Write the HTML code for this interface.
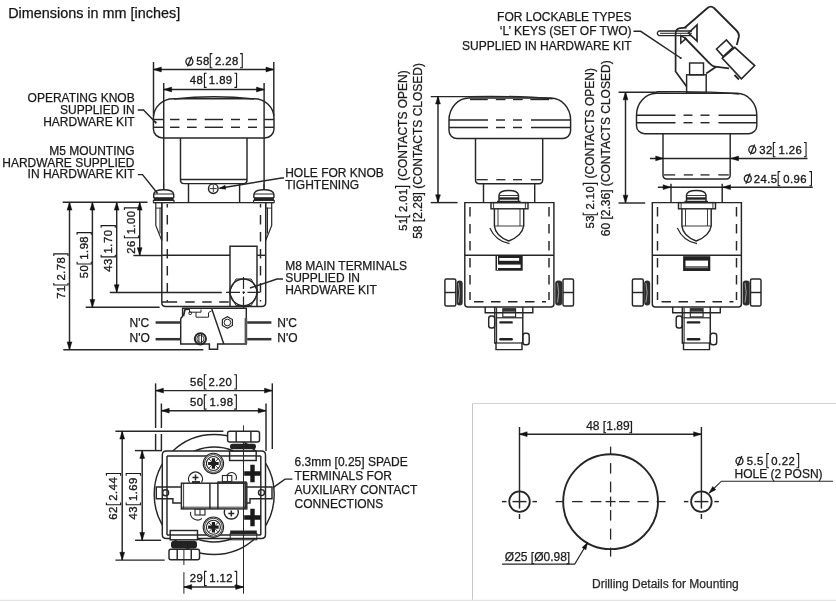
<!DOCTYPE html><html><head><meta charset="utf-8"><style>html,body{margin:0;padding:0;background:#fff;}svg{display:block;will-change:transform;font-family:"Liberation Sans",sans-serif;}</style></head><body>
<svg width="836" height="602" viewBox="0 0 836 602">
<rect width="836" height="602" fill="#fff"/>
<text x="8.2" y="17.6" font-size="14.4" text-anchor="start" fill="#141414" stroke="#141414" stroke-width="0.25" >Dimensions in mm [inches]</text>
<line x1="153.5" y1="62" x2="153.5" y2="116" stroke="#262626" stroke-width="1.45"/>
<line x1="273.8" y1="62" x2="273.8" y2="116" stroke="#262626" stroke-width="1.45"/>
<line x1="153.5" y1="69.5" x2="273.8" y2="69.5" stroke="#262626" stroke-width="1.45"/>
<polygon points="153.5,69.5 161.3,67.1 161.3,71.9" fill="#111" stroke="#111" stroke-width="0.5" stroke-linejoin="round"/>
<polygon points="273.8,69.5 266.0,67.1 266.0,71.9" fill="#111" stroke="#111" stroke-width="0.5" stroke-linejoin="round"/>
<ellipse cx="189.4" cy="61.6" rx="3.5" ry="3.7" fill="none" stroke="#262626" stroke-width="1.35"/>
<line x1="187.5" y1="66.6" x2="191.70000000000002" y2="56.5" stroke="#262626" stroke-width="1.4"/>
<g><text x="196.26" y="64.6" font-size="11.3" letter-spacing="0.45" fill="#1a1a1a" stroke="#1a1a1a" stroke-width="0.35">58</text><text x="215.04" y="64.6" font-size="11.3" letter-spacing="0.45" fill="#1a1a1a" stroke="#1a1a1a" stroke-width="0.35">2.28</text><path d="M212.40,53.599999999999994 H210.25 V67.8 H212.40 M240.10,53.599999999999994 H242.25 V67.8 H240.10" fill="none" stroke="#1a1a1a" stroke-width="1.1"/></g>
<line x1="163.7" y1="83" x2="163.7" y2="189.7" stroke="#262626" stroke-width="1.45"/>
<line x1="264.1" y1="83" x2="264.1" y2="189.7" stroke="#262626" stroke-width="1.45"/>
<line x1="163.8" y1="89.5" x2="264.3" y2="89.5" stroke="#262626" stroke-width="1.45"/>
<polygon points="163.8,89.5 171.60000000000002,87.1 171.60000000000002,91.9" fill="#111" stroke="#111" stroke-width="0.5" stroke-linejoin="round"/>
<polygon points="264.3,89.5 256.5,87.1 256.5,91.9" fill="#111" stroke="#111" stroke-width="0.5" stroke-linejoin="round"/>
<g><text x="189.75" y="84.2" font-size="11.3" letter-spacing="0.45" fill="#1a1a1a" stroke="#1a1a1a" stroke-width="0.35">48</text><text x="208.82" y="84.2" font-size="11.3" letter-spacing="0.45" fill="#1a1a1a" stroke="#1a1a1a" stroke-width="0.35">1.89</text><path d="M206.60,73.2 H204.45 V87.4 H206.60 M234.40,73.2 H236.55 V87.4 H234.40" fill="none" stroke="#1a1a1a" stroke-width="1.1"/></g>
<path d="M153.4,129 V118 A20,19.5 0 0 1 173.4,98.7 H254 A20,19.5 0 0 1 274,118 V129 A9.5,9 0 0 1 264.5,138 H162.9 A9.5,9 0 0 1 153.4,129 Z" fill="none" stroke="#262626" stroke-width="1.45" />
<path d="M174,99 Q214,94.5 254,99" fill="none" stroke="#262626" stroke-width="1.45" />
<line x1="153.4" y1="119.5" x2="163.8" y2="119.5" stroke="#262626" stroke-width="1.45"/>
<line x1="170" y1="119.5" x2="179.5" y2="119.5" stroke="#262626" stroke-width="1.45"/>
<line x1="187" y1="119.5" x2="196.7" y2="119.5" stroke="#262626" stroke-width="1.45"/>
<line x1="204.7" y1="119.5" x2="223" y2="119.5" stroke="#262626" stroke-width="1.45"/>
<line x1="231" y1="119.5" x2="240" y2="119.5" stroke="#262626" stroke-width="1.45"/>
<line x1="248" y1="119.5" x2="257" y2="119.5" stroke="#262626" stroke-width="1.45"/>
<line x1="264.3" y1="119.5" x2="274" y2="119.5" stroke="#262626" stroke-width="1.45"/>
<line x1="153.4" y1="127.3" x2="163.8" y2="127.3" stroke="#262626" stroke-width="1.45"/>
<line x1="170" y1="127.3" x2="179.5" y2="127.3" stroke="#262626" stroke-width="1.45"/>
<line x1="187" y1="127.3" x2="196.7" y2="127.3" stroke="#262626" stroke-width="1.45"/>
<line x1="204.7" y1="127.3" x2="223" y2="127.3" stroke="#262626" stroke-width="1.45"/>
<line x1="231" y1="127.3" x2="240" y2="127.3" stroke="#262626" stroke-width="1.45"/>
<line x1="248" y1="127.3" x2="257" y2="127.3" stroke="#262626" stroke-width="1.45"/>
<line x1="264.3" y1="127.3" x2="274" y2="127.3" stroke="#262626" stroke-width="1.45"/>
<path d="M180.5,138 L180.5,180 Q180.5,183.6 184,183.6 L243.5,183.6 Q247,183.6 247,180 L247,138" fill="none" stroke="#262626" stroke-width="1.45" />
<line x1="180.5" y1="179.5" x2="247" y2="179.5" stroke="#262626" stroke-width="1.45"/>
<line x1="188.5" y1="183.6" x2="188.5" y2="202.8" stroke="#262626" stroke-width="1.45"/>
<line x1="239.6" y1="183.6" x2="239.6" y2="202.8" stroke="#262626" stroke-width="1.45"/>
<circle cx="213.3" cy="188.6" r="4.8" fill="none" stroke="#262626" stroke-width="1.45"/>
<line x1="209.8" y1="188.6" x2="216.8" y2="188.6" stroke="#262626" stroke-width="0.9"/>
<line x1="213.3" y1="185.1" x2="213.3" y2="192.1" stroke="#262626" stroke-width="0.9"/>
<polyline points="219.5,188.3 281.6,178 284,178" fill="none" stroke="#262626" stroke-width="1.45"/>
<polygon points="219.5,188.3 225.09111289732698,185.34374281069051 225.74664463144728,189.2896619869486" fill="#111" stroke="#111" stroke-width="0.5" stroke-linejoin="round"/>
<rect x="153.39999999999998" y="200.4" width="20.6" height="2.2" rx="0" fill="none" stroke="#262626" stroke-width="1.1"/>
<rect x="153.7" y="197.2" width="20" height="3.2" fill="#222"/>
<path d="M153.7,198.1 L153.7,194.4 Q154.2,189.7 163.7,189.7 Q173.2,189.7 173.7,194.4 L173.7,198.1" fill="none" stroke="#262626" stroke-width="1.45" />
<line x1="153.89999999999998" y1="194.0" x2="173.5" y2="194.0" stroke="#262626" stroke-width="1.0"/>
<path d="M161.8,202.6 L161.8,240.6 M155.8,202.6 L155.8,225.4 L161.8,240.6" fill="none" stroke="#262626" stroke-width="1.2" />
<line x1="160.0" y1="207.6" x2="160.0" y2="233.6" stroke="#262626" stroke-width="1.0"/>
<line x1="155.8" y1="208.1" x2="161.8" y2="208.1" stroke="#262626" stroke-width="0.9"/>
<line x1="163.7" y1="183.6" x2="163.7" y2="189.7" stroke="#262626" stroke-width="1.0"/>
<rect x="253.59999999999997" y="200.4" width="20.6" height="2.2" rx="0" fill="none" stroke="#262626" stroke-width="1.1"/>
<rect x="253.89999999999998" y="197.2" width="20" height="3.2" fill="#222"/>
<path d="M253.89999999999998,198.1 L253.89999999999998,194.4 Q254.39999999999998,189.7 263.9,189.7 Q273.4,189.7 273.9,194.4 L273.9,198.1" fill="none" stroke="#262626" stroke-width="1.45" />
<line x1="254.09999999999997" y1="194.0" x2="273.7" y2="194.0" stroke="#262626" stroke-width="1.0"/>
<path d="M265.7,202.6 L265.7,240.6 M271.7,202.6 L271.7,225.4 L265.7,240.6" fill="none" stroke="#262626" stroke-width="1.2" />
<line x1="267.5" y1="207.6" x2="267.5" y2="233.6" stroke="#262626" stroke-width="1.0"/>
<line x1="271.7" y1="208.1" x2="265.7" y2="208.1" stroke="#262626" stroke-width="0.9"/>
<line x1="263.9" y1="183.6" x2="263.9" y2="189.7" stroke="#262626" stroke-width="1.0"/>
<line x1="153.4" y1="202.6" x2="274" y2="202.6" stroke="#262626" stroke-width="1.45"/>
<line x1="62.7" y1="202.3" x2="147.5" y2="202.3" stroke="#262626" stroke-width="1.45"/>
<path d="M161.8,202.6 L161.8,302.4 Q161.8,306.4 165.8,306.4 L261.7,306.4 Q265.7,306.4 265.7,302.4 L265.7,202.6" fill="none" stroke="#262626" stroke-width="1.45" />
<line x1="167.3" y1="204" x2="167.3" y2="301.5" stroke="#262626" stroke-width="1.45" stroke-dasharray="9.5,7.5" stroke-dashoffset="6"/>
<line x1="260.5" y1="204" x2="260.5" y2="301.5" stroke="#262626" stroke-width="1.45" stroke-dasharray="9.5,7.5" stroke-dashoffset="6"/>
<line x1="161.8" y1="255.3" x2="230" y2="255.3" stroke="#262626" stroke-width="1.45"/>
<line x1="257" y1="255.3" x2="265.7" y2="255.3" stroke="#262626" stroke-width="1.45"/>
<line x1="133.3" y1="255.5" x2="161.8" y2="255.5" stroke="#262626" stroke-width="1.45"/>
<line x1="161.8" y1="302" x2="230" y2="302" stroke="#262626" stroke-width="1.45" stroke-dasharray="15.4,8,9.5,7.5,9.5,7.5,9.5,7.5" stroke-dashoffset="0"/>
<path d="M230,306.4 L230,246.2 L257,246.2 L257,306.4" fill="none" stroke="#262626" stroke-width="1.45" />
<circle cx="243.5" cy="292.3" r="13.4" fill="none" stroke="#262626" stroke-width="1.45"/>
<polygon points="229,292.3 236,279 251.2,279 258.2,292.3 251.2,305.6 236,305.6" fill="none" stroke="#262626" stroke-width="1.0"/>
<line x1="243.5" y1="277" x2="243.5" y2="310" stroke="#262626" stroke-width="1.2" stroke-dasharray="12,2.5,2.5,2.5" stroke-dashoffset="0"/>
<line x1="226" y1="292.3" x2="260" y2="292.3" stroke="#262626" stroke-width="1.2" stroke-dasharray="14,2.5,2.5,2.5" stroke-dashoffset="0"/>
<polyline points="250,288 277,279 283,279" fill="none" stroke="#262626" stroke-width="1.45"/>
<line x1="109.8" y1="292.5" x2="221.8" y2="292.5" stroke="#262626" stroke-width="1.45"/>
<line x1="85.7" y1="307.3" x2="159.6" y2="307.3" stroke="#262626" stroke-width="1.45"/>
<line x1="63.3" y1="349.7" x2="203.3" y2="349.7" stroke="#262626" stroke-width="1.45"/>
<line x1="69.5" y1="202.3" x2="69.5" y2="349.7" stroke="#262626" stroke-width="1.45"/>
<polygon points="69.5,202.3 67.1,210.10000000000002 71.9,210.10000000000002" fill="#111" stroke="#111" stroke-width="0.5" stroke-linejoin="round"/>
<polygon points="69.5,349.7 67.1,341.9 71.9,341.9" fill="#111" stroke="#111" stroke-width="0.5" stroke-linejoin="round"/>
<line x1="92.4" y1="202.3" x2="92.4" y2="307.3" stroke="#262626" stroke-width="1.45"/>
<polygon points="92.4,202.3 90.0,210.10000000000002 94.80000000000001,210.10000000000002" fill="#111" stroke="#111" stroke-width="0.5" stroke-linejoin="round"/>
<polygon points="92.4,307.3 90.0,299.5 94.80000000000001,299.5" fill="#111" stroke="#111" stroke-width="0.5" stroke-linejoin="round"/>
<line x1="116.7" y1="202.3" x2="116.7" y2="292.5" stroke="#262626" stroke-width="1.45"/>
<polygon points="116.7,202.3 114.3,210.10000000000002 119.10000000000001,210.10000000000002" fill="#111" stroke="#111" stroke-width="0.5" stroke-linejoin="round"/>
<polygon points="116.7,292.5 114.3,284.7 119.10000000000001,284.7" fill="#111" stroke="#111" stroke-width="0.5" stroke-linejoin="round"/>
<line x1="139.7" y1="202.3" x2="139.7" y2="255.5" stroke="#262626" stroke-width="1.45"/>
<polygon points="139.7,202.3 137.29999999999998,210.10000000000002 142.1,210.10000000000002" fill="#111" stroke="#111" stroke-width="0.5" stroke-linejoin="round"/>
<polygon points="139.7,255.5 137.29999999999998,247.7 142.1,247.7" fill="#111" stroke="#111" stroke-width="0.5" stroke-linejoin="round"/>
<g transform="translate(135.4,253.3) rotate(-90)"><text x="-0.56" y="0" font-size="11.3" letter-spacing="0.45" fill="#1a1a1a" stroke="#1a1a1a" stroke-width="0.35">26</text><text x="19.02" y="0" font-size="11.3" letter-spacing="0.45" fill="#1a1a1a" stroke="#1a1a1a" stroke-width="0.35">1.00</text><path d="M17.70,-11 H15.55 V3.2 H17.70 M43.30,-11 H45.45 V3.2 H43.30" fill="none" stroke="#1a1a1a" stroke-width="1.1"/></g>
<g transform="translate(112.1,271.5) rotate(-90)"><text x="-0.25" y="0" font-size="11.3" letter-spacing="0.45" fill="#1a1a1a" stroke="#1a1a1a" stroke-width="0.35">43</text><text x="18.12" y="0" font-size="11.3" letter-spacing="0.45" fill="#1a1a1a" stroke="#1a1a1a" stroke-width="0.35">1.70</text><path d="M16.80,-11 H14.65 V3.2 H16.80 M43.70,-11 H45.85 V3.2 H43.70" fill="none" stroke="#1a1a1a" stroke-width="1.1"/></g>
<g transform="translate(88.1,277.9) rotate(-90)"><text x="-0.44" y="0" font-size="11.3" letter-spacing="0.45" fill="#1a1a1a" stroke="#1a1a1a" stroke-width="0.35">50</text><text x="18.23" y="0" font-size="11.3" letter-spacing="0.45" fill="#1a1a1a" stroke="#1a1a1a" stroke-width="0.35">1.98</text><path d="M16.10,-11 H13.95 V3.2 H16.10 M43.10,-11 H45.25 V3.2 H43.10" fill="none" stroke="#1a1a1a" stroke-width="1.1"/></g>
<g transform="translate(64.8,298.3) rotate(-90)"><text x="-0.56" y="0" font-size="11.3" letter-spacing="0.45" fill="#1a1a1a" stroke="#1a1a1a" stroke-width="0.35">71</text><text x="17.74" y="0" font-size="11.3" letter-spacing="0.45" fill="#1a1a1a" stroke="#1a1a1a" stroke-width="0.35">2.78</text><path d="M15.40,-11 H13.25 V3.2 H15.40 M42.30,-11 H44.45 V3.2 H42.30" fill="none" stroke="#1a1a1a" stroke-width="1.1"/></g>
<path d="M180.7,344 L180.7,319.5 Q180.7,317.5 182.6,316.5 L182.6,308.2 L246.3,308.2 L246.3,344 L217.6,344 L217.6,349.3 L209.4,349.3 L209.4,344 Z" fill="none" stroke="#262626" stroke-width="1.45" />
<rect x="244.6" y="318" width="2.6" height="26" fill="#555"/>
<path d="M183.5,316 L185,309.5 L190,309.2" fill="none" stroke="#262626" stroke-width="1.6" />
<path d="M189.5,309.5 L189.5,312.2 L201,312.2 L201,309.5" fill="none" stroke="#262626" stroke-width="1.0" />
<path d="M196,312.2 L196,317.2 L208.5,317.2 L208.5,313 Q209,311.5 211.5,311" fill="none" stroke="#262626" stroke-width="1.0" />
<circle cx="190.2" cy="313.2" r="1.4" fill="none" stroke="#262626" stroke-width="1.0"/>
<line x1="211.8" y1="309.1" x2="223.8" y2="344" stroke="#262626" stroke-width="1.45"/>
<polygon points="227.40,328.30 222.38,325.40 222.38,319.60 227.40,316.70 232.42,319.60 232.42,325.40" fill="none" stroke="#262626" stroke-width="1.2"/>
<circle cx="227.4" cy="322.5" r="3.3" fill="none" stroke="#262626" stroke-width="1.0"/>
<circle cx="200.4" cy="338.8" r="5.6" fill="none" stroke="#262626" stroke-width="2.0"/>
<circle cx="200.4" cy="338.8" r="3.6" fill="none" stroke="#262626" stroke-width="0.9"/>
<line x1="198.9" y1="334" x2="198.9" y2="343.6" stroke="#262626" stroke-width="1.0"/>
<line x1="201.5" y1="334" x2="201.5" y2="343.6" stroke="#262626" stroke-width="1.0"/>
<line x1="155.6" y1="322.5" x2="180.7" y2="322.5" stroke="#333" stroke-width="2.5"/>
<line x1="247.2" y1="322.5" x2="271.4" y2="322.5" stroke="#333" stroke-width="2.5"/>
<line x1="155.6" y1="339.2" x2="180.7" y2="339.2" stroke="#333" stroke-width="2.5"/>
<line x1="247.2" y1="339.2" x2="271.4" y2="339.2" stroke="#333" stroke-width="2.5"/>
<text x="129.5" y="326.5" font-size="12" text-anchor="start" fill="#1a1a1a" stroke="#1a1a1a" stroke-width="0.25" >N'C</text>
<text x="129.5" y="342.4" font-size="12" text-anchor="start" fill="#1a1a1a" stroke="#1a1a1a" stroke-width="0.25" >N'O</text>
<text x="277.3" y="326.5" font-size="12" text-anchor="start" fill="#1a1a1a" stroke="#1a1a1a" stroke-width="0.25" >N'C</text>
<text x="277.3" y="342.4" font-size="12" text-anchor="start" fill="#1a1a1a" stroke="#1a1a1a" stroke-width="0.25" >N'O</text>
<text x="134.7" y="101.8" font-size="12" text-anchor="end" fill="#1a1a1a" stroke="#1a1a1a" stroke-width="0.25" >OPERATING KNOB</text>
<text x="134.7" y="113.6" font-size="12" text-anchor="end" fill="#1a1a1a" stroke="#1a1a1a" stroke-width="0.25" >SUPPLIED IN</text>
<text x="134.7" y="125.5" font-size="12" text-anchor="end" fill="#1a1a1a" stroke="#1a1a1a" stroke-width="0.25" >HARDWARE KIT</text>
<polyline points="137.8,109.9 143.5,109.9 155.7,122.4" fill="none" stroke="#262626" stroke-width="1.45"/>
<circle cx="155.7" cy="122.6" r="1.1" fill="#222"/>
<text x="134.5" y="154.9" font-size="12" text-anchor="end" fill="#1a1a1a" stroke="#1a1a1a" stroke-width="0.25" >M5 MOUNTING</text>
<text x="134.5" y="166.8" font-size="12" text-anchor="end" fill="#1a1a1a" stroke="#1a1a1a" stroke-width="0.25" >HARDWARE SUPPLIED</text>
<text x="134.5" y="178.4" font-size="12" text-anchor="end" fill="#1a1a1a" stroke="#1a1a1a" stroke-width="0.25" >IN HARDWARE KIT</text>
<polyline points="137.8,174.6 142.5,174.6 157.6,193.5" fill="none" stroke="#262626" stroke-width="1.45"/>
<text x="285.2" y="177.2" font-size="12" text-anchor="start" fill="#1a1a1a" stroke="#1a1a1a" stroke-width="0.25" >HOLE FOR KNOB</text>
<text x="285.2" y="188.7" font-size="12" text-anchor="start" fill="#1a1a1a" stroke="#1a1a1a" stroke-width="0.25" >TIGHTENING</text>
<text x="285.2" y="269.8" font-size="12" text-anchor="start" fill="#1a1a1a" stroke="#1a1a1a" stroke-width="0.25" >M8 MAIN TERMINALS</text>
<text x="285.2" y="281.9" font-size="12" text-anchor="start" fill="#1a1a1a" stroke="#1a1a1a" stroke-width="0.25" >SUPPLIED IN</text>
<text x="285.2" y="294" font-size="12" text-anchor="start" fill="#1a1a1a" stroke="#1a1a1a" stroke-width="0.25" >HARDWARE KIT</text>
<path d="M449,130.5 V120 A20,22 0 0 1 469,98 H550.6 A20,22 0 0 1 570.6,120 V130.5 A8,8 0 0 1 562.6,138.5 H457 A8,8 0 0 1 449,130.5 Z" fill="none" stroke="#262626" stroke-width="1.45" />
<path d="M469,96.6 Q520,95.8 552.6,98.8" fill="none" stroke="#262626" stroke-width="1.45" />
<line x1="470" y1="99.6" x2="487.8" y2="99.6" stroke="#262626" stroke-width="1.2"/>
<line x1="495.8" y1="99.6" x2="505.5" y2="99.6" stroke="#262626" stroke-width="1.2"/>
<line x1="513" y1="99.6" x2="522.7" y2="99.6" stroke="#262626" stroke-width="1.2"/>
<line x1="530.3" y1="99.6" x2="549" y2="99.6" stroke="#262626" stroke-width="1.2"/>
<line x1="449" y1="120" x2="488" y2="120" stroke="#262626" stroke-width="1.45"/>
<line x1="496" y1="120" x2="505" y2="120" stroke="#262626" stroke-width="1.45"/>
<line x1="513" y1="120" x2="522" y2="120" stroke="#262626" stroke-width="1.45"/>
<line x1="531" y1="120" x2="570.6" y2="120" stroke="#262626" stroke-width="1.45"/>
<line x1="449" y1="127.5" x2="488" y2="127.5" stroke="#262626" stroke-width="1.45"/>
<line x1="496" y1="127.5" x2="505" y2="127.5" stroke="#262626" stroke-width="1.45"/>
<line x1="513" y1="127.5" x2="522" y2="127.5" stroke="#262626" stroke-width="1.45"/>
<line x1="531" y1="127.5" x2="570.6" y2="127.5" stroke="#262626" stroke-width="1.45"/>
<path d="M475.5,138.5 L475.5,179.7 Q475.5,183.7 479.5,183.7 L538.7,183.7 Q542.7,183.7 542.7,179.7 L542.7,138.5" fill="none" stroke="#262626" stroke-width="1.45" />
<line x1="476.5" y1="179.7" x2="487.7" y2="179.7" stroke="#262626" stroke-width="1.3"/>
<line x1="496.3" y1="179.7" x2="505.4" y2="179.7" stroke="#262626" stroke-width="1.3"/>
<line x1="513" y1="179.7" x2="522" y2="179.7" stroke="#262626" stroke-width="1.3"/>
<line x1="530.8" y1="179.7" x2="541.3" y2="179.7" stroke="#262626" stroke-width="1.3"/>
<line x1="483.5" y1="183.7" x2="483.5" y2="202.6" stroke="#262626" stroke-width="1.45"/>
<line x1="534.7" y1="183.7" x2="534.7" y2="202.6" stroke="#262626" stroke-width="1.45"/>
<path d="M499,201.7 L499,195 Q499.5,190.5 508.7,190.5 Q518,190.5 518.5,195 L518.5,201.7" fill="none" stroke="#262626" stroke-width="1.45" />
<line x1="499" y1="195.5" x2="518.5" y2="195.5" stroke="#262626" stroke-width="0.9"/>
<rect x="499" y="197.3" width="19.5" height="2.4" fill="#222"/>
<line x1="497" y1="201.5" x2="520.5" y2="201.5" stroke="#262626" stroke-width="1.45"/>
<path d="M464.8,202.6 L553.9,202.6 L553.9,303.9 Q553.9,306.9 550.9,306.9 L467.8,306.9 Q464.8,306.9 464.8,303.9 Z" fill="none" stroke="#262626" stroke-width="1.45" />
<line x1="464.8" y1="255.3" x2="553.9" y2="255.3" stroke="#262626" stroke-width="1.45"/>
<line x1="470" y1="207" x2="470" y2="300" stroke="#262626" stroke-width="1.45" stroke-dasharray="9.5,7.5" stroke-dashoffset="0"/>
<line x1="549" y1="207" x2="549" y2="300" stroke="#262626" stroke-width="1.45" stroke-dasharray="9.5,7.5" stroke-dashoffset="0"/>
<line x1="474" y1="301.7" x2="546" y2="301.7" stroke="#262626" stroke-width="1.45" stroke-dasharray="9.5,7.5" stroke-dashoffset="0"/>
<rect x="491" y="202.6" width="37" height="6.2" rx="0" fill="none" stroke="#262626" stroke-width="1.45"/>
<line x1="493.6" y1="202.6" x2="493.6" y2="208.8" stroke="#262626" stroke-width="0.9"/>
<line x1="525.4" y1="202.6" x2="525.4" y2="208.8" stroke="#262626" stroke-width="0.9"/>
<path d="M494.4,208.8 L494.4,226 Q495.5,236 508.7,241 Q522,236 523.7,226 L523.7,208.8" fill="none" stroke="#262626" stroke-width="1.45" />
<line x1="498" y1="208.8" x2="498" y2="226" stroke="#262626" stroke-width="0.9"/>
<line x1="520" y1="208.8" x2="520" y2="226" stroke="#262626" stroke-width="0.9"/>
<line x1="494.4" y1="226" x2="523.7" y2="226" stroke="#262626" stroke-width="0.9"/>
<path d="M489.8,228 Q496,241.5 509.5,243.6" fill="none" stroke="#262626" stroke-width="1.2" />
<rect x="495.5" y="255.3" width="27.2" height="15.4" fill="#222"/>
<rect x="499.3" y="258" width="19.8" height="2.8" fill="#fff"/>
<rect x="497.8" y="264.6" width="22.8" height="3.4" fill="#fff"/>
<rect x="497" y="256" width="1" height="14" fill="#fff"/>
<rect x="444.9" y="279" width="10.900000000000034" height="27" rx="1.5" fill="none" stroke="#262626" stroke-width="1.45"/>
<line x1="444.9" y1="292.5" x2="455.8" y2="292.5" stroke="#262626" stroke-width="1.45"/>
<rect x="456.6" y="280.5" width="6.099999999999989" height="25" rx="3" fill="#2e2e2e"/>
<path d="M458.45,283 Q460.85,292.7 458.45,302.5" fill="none" stroke="#bbb" stroke-width="0.8"/>
<rect x="563" y="279" width="10.5" height="27" rx="1.5" fill="none" stroke="#262626" stroke-width="1.45"/>
<line x1="563" y1="292.5" x2="573.5" y2="292.5" stroke="#262626" stroke-width="1.45"/>
<rect x="555.2" y="280.5" width="7.000000000000023" height="25" rx="3" fill="#2e2e2e"/>
<path d="M557.5,283 Q559.9,292.7 557.5,302.5" fill="none" stroke="#bbb" stroke-width="0.8"/>
<path d="M485.2,306.9 L485.2,312.8 L532.8,312.8 L532.8,306.9" fill="none" stroke="#262626" stroke-width="1.45" />
<path d="M494.8,306.9 V343 H496 V349.6 H522 V343 H522.8 V306.9" fill="none" stroke="#262626" stroke-width="1.45" />
<line x1="494.8" y1="343" x2="522.8" y2="343" stroke="#262626" stroke-width="1.2"/>
<line x1="496.6" y1="307.5" x2="496.6" y2="343" stroke="#262626" stroke-width="1.1"/>
<line x1="496" y1="317.8" x2="522.5" y2="317.8" stroke="#262626" stroke-width="1.2"/>
<rect x="502.8" y="308.7" width="12.8" height="8.2" fill="none" stroke="#262626" stroke-width="1.1"/>
<rect x="502.8" y="308.7" width="12.8" height="3" fill="#333"/>
<rect x="488.7" y="316" width="6" height="11.9" rx="2.5" fill="none" stroke="#262626" stroke-width="1.45"/>
<rect x="522.8" y="333.3" width="6.4" height="11.4" rx="2.5" fill="none" stroke="#262626" stroke-width="1.45"/>
<rect x="499.2" y="321.2" width="13.7" height="2.4" rx="1.2" fill="#222"/>
<rect x="499.2" y="338.1" width="13.7" height="2.4" rx="1.2" fill="#222"/>
<path d="M636.5,125.7 V115.2 A20,22 0 0 1 656.5,93.2 H736.8 A20,22 0 0 1 756.8,115.2 V125.7 A8,8 0 0 1 748.8,133.7 H644.5 A8,8 0 0 1 636.5,125.7 Z" fill="none" stroke="#262626" stroke-width="1.45" />
<path d="M656.5,91.8 Q707.5,91.0 738.8,94.0" fill="none" stroke="#262626" stroke-width="1.45" />
<line x1="636.5" y1="115.2" x2="675.5" y2="115.2" stroke="#262626" stroke-width="1.45"/>
<line x1="683.5" y1="115.2" x2="692.5" y2="115.2" stroke="#262626" stroke-width="1.45"/>
<line x1="700.5" y1="115.2" x2="709.5" y2="115.2" stroke="#262626" stroke-width="1.45"/>
<line x1="718.5" y1="115.2" x2="756.8" y2="115.2" stroke="#262626" stroke-width="1.45"/>
<line x1="636.5" y1="122.7" x2="675.5" y2="122.7" stroke="#262626" stroke-width="1.45"/>
<line x1="683.5" y1="122.7" x2="692.5" y2="122.7" stroke="#262626" stroke-width="1.45"/>
<line x1="700.5" y1="122.7" x2="709.5" y2="122.7" stroke="#262626" stroke-width="1.45"/>
<line x1="718.5" y1="122.7" x2="756.8" y2="122.7" stroke="#262626" stroke-width="1.45"/>
<path d="M663.0,133.7 L663.0,174.9 Q663.0,178.9 667.0,178.9 L726.2,178.9 Q730.2,178.9 730.2,174.9 L730.2,133.7" fill="none" stroke="#262626" stroke-width="1.45" />
<line x1="664.0" y1="174.9" x2="675.2" y2="174.9" stroke="#262626" stroke-width="1.3"/>
<line x1="683.8" y1="174.9" x2="692.9" y2="174.9" stroke="#262626" stroke-width="1.3"/>
<line x1="700.5" y1="174.9" x2="709.5" y2="174.9" stroke="#262626" stroke-width="1.3"/>
<line x1="718.3" y1="174.9" x2="728.8" y2="174.9" stroke="#262626" stroke-width="1.3"/>
<line x1="671.0" y1="183.7" x2="671.0" y2="202.6" stroke="#262626" stroke-width="1.45"/>
<line x1="722.2" y1="183.7" x2="722.2" y2="202.6" stroke="#262626" stroke-width="1.45"/>
<path d="M686.5,201.7 L686.5,195 Q687.0,190.5 696.2,190.5 Q705.5,190.5 706.0,195 L706.0,201.7" fill="none" stroke="#262626" stroke-width="1.45" />
<line x1="686.5" y1="195.5" x2="706.0" y2="195.5" stroke="#262626" stroke-width="0.9"/>
<rect x="686.5" y="197.3" width="19.5" height="2.4" fill="#222"/>
<line x1="684.5" y1="201.5" x2="708.0" y2="201.5" stroke="#262626" stroke-width="1.45"/>
<path d="M652.3,202.6 L741.4,202.6 L741.4,303.9 Q741.4,306.9 738.4,306.9 L655.3,306.9 Q652.3,306.9 652.3,303.9 Z" fill="none" stroke="#262626" stroke-width="1.45" />
<line x1="652.3" y1="255.3" x2="741.4" y2="255.3" stroke="#262626" stroke-width="1.45"/>
<line x1="657.5" y1="207" x2="657.5" y2="300" stroke="#262626" stroke-width="1.45" stroke-dasharray="9.5,7.5" stroke-dashoffset="0"/>
<line x1="736.5" y1="207" x2="736.5" y2="300" stroke="#262626" stroke-width="1.45" stroke-dasharray="9.5,7.5" stroke-dashoffset="0"/>
<line x1="661.5" y1="301.7" x2="733.5" y2="301.7" stroke="#262626" stroke-width="1.45" stroke-dasharray="9.5,7.5" stroke-dashoffset="0"/>
<rect x="678.5" y="202.6" width="37" height="6.2" rx="0" fill="none" stroke="#262626" stroke-width="1.45"/>
<line x1="681.1" y1="202.6" x2="681.1" y2="208.8" stroke="#262626" stroke-width="0.9"/>
<line x1="712.9" y1="202.6" x2="712.9" y2="208.8" stroke="#262626" stroke-width="0.9"/>
<path d="M681.9,208.8 L681.9,226 Q683.0,236 696.2,241 Q709.5,236 711.2,226 L711.2,208.8" fill="none" stroke="#262626" stroke-width="1.45" />
<line x1="685.5" y1="208.8" x2="685.5" y2="226" stroke="#262626" stroke-width="0.9"/>
<line x1="707.5" y1="208.8" x2="707.5" y2="226" stroke="#262626" stroke-width="0.9"/>
<line x1="681.9" y1="226" x2="711.2" y2="226" stroke="#262626" stroke-width="0.9"/>
<path d="M677.3,228 Q683.5,241.5 697.0,243.6" fill="none" stroke="#262626" stroke-width="1.2" />
<rect x="683.1" y="256.2" width="27.2" height="14.8" fill="#222"/>
<rect x="685.5" y="260.6" width="22.5" height="5.4" fill="#fff"/>
<rect x="685.5" y="266" width="22.5" height="2.2" fill="#777"/>
<rect x="632.4" y="279" width="10.900000000000034" height="27" rx="1.5" fill="none" stroke="#262626" stroke-width="1.45"/>
<line x1="632.4" y1="292.5" x2="643.3" y2="292.5" stroke="#262626" stroke-width="1.45"/>
<rect x="644.1" y="280.5" width="6.099999999999989" height="25" rx="3" fill="#2e2e2e"/>
<path d="M645.95,283 Q648.35,292.7 645.95,302.5" fill="none" stroke="#bbb" stroke-width="0.8"/>
<rect x="750.5" y="279" width="10.5" height="27" rx="1.5" fill="none" stroke="#262626" stroke-width="1.45"/>
<line x1="750.5" y1="292.5" x2="761.0" y2="292.5" stroke="#262626" stroke-width="1.45"/>
<rect x="742.7" y="280.5" width="7.000000000000023" height="25" rx="3" fill="#2e2e2e"/>
<path d="M745.0,283 Q747.4,292.7 745.0,302.5" fill="none" stroke="#bbb" stroke-width="0.8"/>
<path d="M672.7,306.9 L672.7,312.8 L720.3,312.8 L720.3,306.9" fill="none" stroke="#262626" stroke-width="1.45" />
<path d="M682.3,306.9 V343 H683.5 V349.6 H709.5 V343 H710.3 V306.9" fill="none" stroke="#262626" stroke-width="1.45" />
<line x1="682.3" y1="343" x2="710.3" y2="343" stroke="#262626" stroke-width="1.2"/>
<line x1="684.1" y1="307.5" x2="684.1" y2="343" stroke="#262626" stroke-width="1.1"/>
<line x1="683.5" y1="317.8" x2="710.0" y2="317.8" stroke="#262626" stroke-width="1.2"/>
<rect x="690.3" y="308.7" width="12.8" height="8.2" fill="none" stroke="#262626" stroke-width="1.1"/>
<rect x="690.3" y="308.7" width="12.8" height="3" fill="#333"/>
<rect x="676.2" y="316" width="6" height="11.9" rx="2.5" fill="none" stroke="#262626" stroke-width="1.45"/>
<rect x="710.3" y="333.3" width="6.4" height="11.4" rx="2.5" fill="none" stroke="#262626" stroke-width="1.45"/>
<rect x="686.7" y="321.2" width="13.7" height="2.4" rx="1.2" fill="#222"/>
<rect x="686.7" y="338.1" width="13.7" height="2.4" rx="1.2" fill="#222"/>
<line x1="430.7" y1="96.6" x2="470" y2="96.6" stroke="#262626" stroke-width="1.45"/>
<line x1="430.7" y1="202.6" x2="457.6" y2="202.6" stroke="#262626" stroke-width="1.45"/>
<line x1="438" y1="96.2" x2="438" y2="202.6" stroke="#262626" stroke-width="1.45"/>
<polygon points="438,96.2 435.6,104.0 440.4,104.0" fill="#111" stroke="#111" stroke-width="0.5" stroke-linejoin="round"/>
<polygon points="438,202.6 435.6,194.79999999999998 440.4,194.79999999999998" fill="#111" stroke="#111" stroke-width="0.5" stroke-linejoin="round"/>
<g transform="translate(406.5,230.3) rotate(-90)"><text x="-0.44" y="0" font-size="11.3" letter-spacing="0.45" fill="#1a1a1a" stroke="#1a1a1a" stroke-width="0.35">51</text><text x="18.34" y="0" font-size="11.3" letter-spacing="0.45" fill="#1a1a1a" stroke="#1a1a1a" stroke-width="0.35">2.01</text><path d="M15.60,-11 H13.45 V3.2 H15.60 M41.80,-11 H43.95 V3.2 H41.80" fill="none" stroke="#1a1a1a" stroke-width="1.1"/><text x="49.6" y="0" font-size="12" fill="#1a1a1a" stroke="#1a1a1a" stroke-width="0.25">(CONTACTS OPEN)</text></g>
<text transform="translate(422.3,238.8) rotate(-90)" font-size="12" fill="#1a1a1a" stroke="#1a1a1a" stroke-width="0.25">58 [2.28] (CONTACTS CLOSED)</text>
<line x1="618.5" y1="92.2" x2="657" y2="92.2" stroke="#262626" stroke-width="1.45"/>
<line x1="618.5" y1="203" x2="645.2" y2="203" stroke="#262626" stroke-width="1.45"/>
<line x1="625.5" y1="92" x2="625.5" y2="203" stroke="#262626" stroke-width="1.45"/>
<polygon points="625.5,92 623.1,99.8 627.9,99.8" fill="#111" stroke="#111" stroke-width="0.5" stroke-linejoin="round"/>
<polygon points="625.5,203 623.1,195.2 627.9,195.2" fill="#111" stroke="#111" stroke-width="0.5" stroke-linejoin="round"/>
<g transform="translate(594.2,228.1) rotate(-90)"><text x="-0.44" y="0" font-size="11.3" letter-spacing="0.45" fill="#1a1a1a" stroke="#1a1a1a" stroke-width="0.35">53</text><text x="18.64" y="0" font-size="11.3" letter-spacing="0.45" fill="#1a1a1a" stroke="#1a1a1a" stroke-width="0.35">2.10</text><path d="M15.50,-11 H13.35 V3.2 H15.50 M42.60,-11 H44.75 V3.2 H42.60" fill="none" stroke="#1a1a1a" stroke-width="1.1"/><text x="49.6" y="0" font-size="12" fill="#1a1a1a" stroke="#1a1a1a" stroke-width="0.25">(CONTACTS OPEN)</text></g>
<text transform="translate(609.8,236.2) rotate(-90)" font-size="12" fill="#1a1a1a" stroke="#1a1a1a" stroke-width="0.25">60 [2.36] (CONTACTS CLOSED)</text>
<line x1="650" y1="158.4" x2="807.5" y2="158.4" stroke="#262626" stroke-width="1.45"/>
<polygon points="663.5,158.4 655.7,156.0 655.7,160.8" fill="#111" stroke="#111" stroke-width="0.5" stroke-linejoin="round"/>
<polygon points="730.7,158.4 738.5,156.0 738.5,160.8" fill="#111" stroke="#111" stroke-width="0.5" stroke-linejoin="round"/>
<ellipse cx="752.3" cy="149.6" rx="3.5" ry="3.7" fill="none" stroke="#262626" stroke-width="1.35"/>
<line x1="750.4" y1="154.6" x2="754.5999999999999" y2="144.5" stroke="#262626" stroke-width="1.4"/>
<g><text x="759.26" y="153.5" font-size="11.3" letter-spacing="0.45" fill="#1a1a1a" stroke="#1a1a1a" stroke-width="0.35">32</text><text x="778.52" y="153.5" font-size="11.3" letter-spacing="0.45" fill="#1a1a1a" stroke="#1a1a1a" stroke-width="0.35">1.26</text><path d="M775.50,142.5 H773.35 V156.7 H775.50 M803.90,142.5 H806.05 V156.7 H803.90" fill="none" stroke="#1a1a1a" stroke-width="1.1"/></g>
<line x1="657.9" y1="187.2" x2="812.7" y2="187.2" stroke="#262626" stroke-width="1.45"/>
<polygon points="670.9,187.2 663.1,184.79999999999998 663.1,189.6" fill="#111" stroke="#111" stroke-width="0.5" stroke-linejoin="round"/>
<polygon points="722.7,187.2 730.5,184.79999999999998 730.5,189.6" fill="#111" stroke="#111" stroke-width="0.5" stroke-linejoin="round"/>
<ellipse cx="747.8" cy="178.7" rx="3.5" ry="3.7" fill="none" stroke="#262626" stroke-width="1.35"/>
<line x1="745.9" y1="183.7" x2="750.0999999999999" y2="173.6" stroke="#262626" stroke-width="1.4"/>
<g><text x="753.74" y="182.6" font-size="11.3" letter-spacing="0.45" fill="#1a1a1a" stroke="#1a1a1a" stroke-width="0.35">24.5</text><text x="783.16" y="182.6" font-size="11.3" letter-spacing="0.45" fill="#1a1a1a" stroke="#1a1a1a" stroke-width="0.35">0.96</text><path d="M780.30,171.6 H778.15 V185.79999999999998 H780.30 M809.30,171.6 H811.45 V185.79999999999998 H809.30" fill="none" stroke="#1a1a1a" stroke-width="1.1"/></g>
<rect x="686.6" y="74.8" width="19.6" height="18.2" rx="0" fill="none" stroke="#262626" stroke-width="1.45"/>
<rect x="689.6" y="63" width="13.9" height="11.8" rx="0" fill="none" stroke="#262626" stroke-width="1.45"/>
<path d="M675.6,34 Q675.6,28.8 680,28.2 L686.5,27.6" fill="none" stroke="#262626" stroke-width="1.7" />
<path d="M675.6,34 L675.6,71.5 L686.6,86.4" fill="none" stroke="#262626" stroke-width="1.7" />
<path d="M706.2,73.5 L716.5,66.5" fill="none" stroke="#262626" stroke-width="1.7" />
<path d="M685,27.5 L707.5,8 Q710.7,5.2 714,8 L736.5,30.5 Q739.5,33.5 738.8,37 L736.8,45" fill="none" stroke="#262626" stroke-width="1.8" />
<path d="M684.5,37.5 L709.8,63.5 Q712.5,66.8 717,66.8 L729,68.3" fill="none" stroke="#262626" stroke-width="1.8" />
<polygon points="697,25 697,41 688.5,33" fill="none" stroke="#262626" stroke-width="1.7"/>
<polygon points="680.8,35.5 680.8,43 686,38.5" fill="none" stroke="#262626" stroke-width="1.5"/>
<path d="M692,31 L659,31 Q655.5,33.2 659,35.6 L692,35.6" fill="none" stroke="#262626" stroke-width="1.3" />
<line x1="660" y1="33.3" x2="692" y2="33.3" stroke="#262626" stroke-width="1.0"/>
<polygon points="716.5,49 726.4,39.9 733.1,47.4 723.2,56.5" fill="none" stroke="#262626" stroke-width="1.6"/>
<polygon points="722.3,58.2 734.8,47.4 754.7,65.6 741.4,78.9" fill="none" stroke="#262626" stroke-width="1.6"/>
<line x1="734.5" y1="75" x2="739" y2="79.5" stroke="#262626" stroke-width="1.8"/>
<text x="631.6" y="21.1" font-size="12" text-anchor="end" fill="#1a1a1a" stroke="#1a1a1a" stroke-width="0.25" >FOR LOCKABLE TYPES</text>
<text x="631.6" y="35.2" font-size="12" text-anchor="end" fill="#1a1a1a" stroke="#1a1a1a" stroke-width="0.25" >&#8216;L&#8217; KEYS (SET OF TWO)</text>
<text x="631.6" y="49.5" font-size="12" text-anchor="end" fill="#1a1a1a" stroke="#1a1a1a" stroke-width="0.25" >SUPPLIED IN HARDWARE KIT</text>
<polyline points="633.5,31.3 640.7,31.3 680.7,58" fill="none" stroke="#262626" stroke-width="1.45"/>
<circle cx="680.7" cy="58" r="1.1" fill="#222"/>
<line x1="155.6" y1="383.4" x2="155.6" y2="428" stroke="#262626" stroke-width="1.45"/>
<line x1="155.6" y1="434" x2="155.6" y2="451" stroke="#262626" stroke-width="1.45"/>
<line x1="272.3" y1="383.4" x2="272.3" y2="449" stroke="#262626" stroke-width="1.45"/>
<line x1="155.6" y1="390.6" x2="272.3" y2="390.6" stroke="#262626" stroke-width="1.45"/>
<polygon points="155.6,390.6 163.4,388.20000000000005 163.4,393.0" fill="#111" stroke="#111" stroke-width="0.5" stroke-linejoin="round"/>
<polygon points="272.3,390.6 264.5,388.20000000000005 264.5,393.0" fill="#111" stroke="#111" stroke-width="0.5" stroke-linejoin="round"/>
<g><text x="189.96" y="385.8" font-size="11.3" letter-spacing="0.45" fill="#1a1a1a" stroke="#1a1a1a" stroke-width="0.35">56</text><text x="208.44" y="385.8" font-size="11.3" letter-spacing="0.45" fill="#1a1a1a" stroke="#1a1a1a" stroke-width="0.35">2.20</text><path d="M206.50,374.8 H204.35 V389.0 H206.50 M234.20,374.8 H236.35 V389.0 H234.20" fill="none" stroke="#1a1a1a" stroke-width="1.1"/></g>
<line x1="161.4" y1="403.5" x2="161.4" y2="428" stroke="#262626" stroke-width="1.45"/>
<line x1="161.4" y1="434" x2="161.4" y2="451" stroke="#262626" stroke-width="1.45"/>
<line x1="266" y1="403.5" x2="266" y2="451" stroke="#262626" stroke-width="1.45"/>
<line x1="161.4" y1="410.7" x2="266" y2="410.7" stroke="#262626" stroke-width="1.45"/>
<polygon points="161.4,410.7 169.20000000000002,408.3 169.20000000000002,413.09999999999997" fill="#111" stroke="#111" stroke-width="0.5" stroke-linejoin="round"/>
<polygon points="266,410.7 258.2,408.3 258.2,413.09999999999997" fill="#111" stroke="#111" stroke-width="0.5" stroke-linejoin="round"/>
<g><text x="189.96" y="405.9" font-size="11.3" letter-spacing="0.45" fill="#1a1a1a" stroke="#1a1a1a" stroke-width="0.35">50</text><text x="209.62" y="405.9" font-size="11.3" letter-spacing="0.45" fill="#1a1a1a" stroke="#1a1a1a" stroke-width="0.35">1.98</text><path d="M206.50,394.9 H204.35 V409.09999999999997 H206.50 M234.20,394.9 H236.35 V409.09999999999997 H234.20" fill="none" stroke="#1a1a1a" stroke-width="1.1"/></g>
<line x1="115.4" y1="431.2" x2="223.4" y2="431.2" stroke="#262626" stroke-width="1.45"/>
<line x1="134.9" y1="450.6" x2="162" y2="450.6" stroke="#262626" stroke-width="1.45"/>
<line x1="135.1" y1="540.3" x2="161.1" y2="540.3" stroke="#262626" stroke-width="1.45"/>
<line x1="115.4" y1="560.1" x2="164.7" y2="560.1" stroke="#262626" stroke-width="1.45"/>
<line x1="122.2" y1="431.2" x2="122.2" y2="560.1" stroke="#262626" stroke-width="1.45"/>
<polygon points="122.2,431.2 119.8,439.0 124.60000000000001,439.0" fill="#111" stroke="#111" stroke-width="0.5" stroke-linejoin="round"/>
<polygon points="122.2,560.1 119.8,552.3000000000001 124.60000000000001,552.3000000000001" fill="#111" stroke="#111" stroke-width="0.5" stroke-linejoin="round"/>
<line x1="142.2" y1="450.6" x2="142.2" y2="540.3" stroke="#262626" stroke-width="1.45"/>
<polygon points="142.2,450.6 139.79999999999998,458.40000000000003 144.6,458.40000000000003" fill="#111" stroke="#111" stroke-width="0.5" stroke-linejoin="round"/>
<polygon points="142.2,540.3 139.79999999999998,532.5 144.6,532.5" fill="#111" stroke="#111" stroke-width="0.5" stroke-linejoin="round"/>
<g transform="translate(117.4,519.3) rotate(-90)"><text x="-0.56" y="0" font-size="11.3" letter-spacing="0.45" fill="#1a1a1a" stroke="#1a1a1a" stroke-width="0.35">62</text><text x="18.64" y="0" font-size="11.3" letter-spacing="0.45" fill="#1a1a1a" stroke="#1a1a1a" stroke-width="0.35">2.44</text><path d="M16.70,-11 H14.55 V3.2 H16.70 M43.60,-11 H45.75 V3.2 H43.60" fill="none" stroke="#1a1a1a" stroke-width="1.1"/></g>
<g transform="translate(137.2,519.3) rotate(-90)"><text x="-0.25" y="0" font-size="11.3" letter-spacing="0.45" fill="#1a1a1a" stroke="#1a1a1a" stroke-width="0.35">43</text><text x="18.32" y="0" font-size="11.3" letter-spacing="0.45" fill="#1a1a1a" stroke="#1a1a1a" stroke-width="0.35">1.69</text><path d="M16.70,-11 H14.55 V3.2 H16.70 M43.60,-11 H45.75 V3.2 H43.60" fill="none" stroke="#1a1a1a" stroke-width="1.1"/></g>
<clipPath id="cbody"><path d="M0,0 H836 V602 H0 Z M162.3,451 V538.5 H265.5 V451 Z" clip-rule="evenodd"/></clipPath>
<g clip-path="url(#cbody)">
<circle cx="214.2" cy="494.5" r="60" fill="none" stroke="#262626" stroke-width="1.45"/>
<circle cx="214.2" cy="494.5" r="47.5" fill="none" stroke="#262626" stroke-width="1.45"/>
</g>
<path d="M162.3,455 Q162.3,451 166.3,451 L261.5,451 Q265.5,451 265.5,455 L265.5,534.5 Q265.5,538.5 261.5,538.5 L166.3,538.5 Q162.3,538.5 162.3,534.5 Z" fill="#fff" stroke="#262626" stroke-width="1.45" />
<line x1="167" y1="456" x2="260.8" y2="456" stroke="#262626" stroke-width="1.45"/>
<line x1="167" y1="456" x2="167" y2="535" stroke="#262626" stroke-width="1.45"/>
<line x1="260.8" y1="456" x2="260.8" y2="535" stroke="#262626" stroke-width="1.45"/>
<line x1="167" y1="535" x2="260.8" y2="535" stroke="#262626" stroke-width="1.45"/>
<rect x="227.6" y="431.3" width="31.9" height="10.6" rx="2" fill="#fff" stroke="#262626" stroke-width="1.45"/>
<line x1="236.213" y1="431.3" x2="236.213" y2="441.90000000000003" stroke="#262626" stroke-width="1.45"/>
<line x1="250.887" y1="431.3" x2="250.887" y2="441.90000000000003" stroke="#262626" stroke-width="1.45"/>
<rect x="230" y="443.8" width="26" height="5.4" rx="2.5" fill="#222"/>
<rect x="229.6" y="451.2" width="26.6" height="9.3" rx="0" fill="#fff" stroke="#262626" stroke-width="1.45"/>
<line x1="229.6" y1="455.9" x2="256.2" y2="455.9" stroke="#262626" stroke-width="1.45"/>
<rect x="169" y="549.3" width="30.5" height="10.5" rx="2" fill="#fff" stroke="#262626" stroke-width="1.45"/>
<line x1="177.235" y1="549.3" x2="177.235" y2="559.8" stroke="#262626" stroke-width="1.45"/>
<line x1="191.265" y1="549.3" x2="191.265" y2="559.8" stroke="#262626" stroke-width="1.45"/>
<rect x="171" y="540.8" width="26" height="7.6" rx="3" fill="#222"/>
<rect x="170.2" y="530.5" width="27.3" height="9.3" rx="0" fill="#fff" stroke="#262626" stroke-width="1.45"/>
<line x1="170.2" y1="535" x2="197.5" y2="535" stroke="#262626" stroke-width="1.45"/>
<circle cx="213.4" cy="463.5" r="10.2" fill="#fff" stroke="#262626" stroke-width="1.1"/>
<circle cx="213.4" cy="463.5" r="8.9" fill="none" stroke="#262626" stroke-width="0.9"/>
<circle cx="213.4" cy="463.5" r="7" fill="none" stroke="#262626" stroke-width="1.1"/>
<path d="M208.1,463.5 H218.70000000000002 M213.4,458.2 V468.8" stroke="#1e1e1e" stroke-width="3.2"/>
<path d="M208.8,458.9 L218.0,468.1 M208.8,468.1 L218.0,458.9" stroke="#262626" stroke-width="0.9"/>
<circle cx="213.4" cy="527.2" r="10.2" fill="#fff" stroke="#262626" stroke-width="1.1"/>
<circle cx="213.4" cy="527.2" r="8.9" fill="none" stroke="#262626" stroke-width="0.9"/>
<circle cx="213.4" cy="527.2" r="7" fill="none" stroke="#262626" stroke-width="1.1"/>
<path d="M208.1,527.2 H218.70000000000002 M213.4,521.9000000000001 V532.5" stroke="#1e1e1e" stroke-width="3.2"/>
<path d="M208.8,522.6 L218.0,531.8000000000001 M208.8,531.8000000000001 L218.0,522.6" stroke="#262626" stroke-width="0.9"/>
<path d="M189.44,482.50 A7,7 0 1 1 201.56,482.50" fill="none" stroke="#262626" stroke-width="1.3" />
<path d="M192.5,477.5 H198.5 M195.5,474.5 V480.5" stroke="#262626" stroke-width="1.5"/>
<rect x="192" y="481" width="8" height="2" fill="#333"/>
<path d="M226.58,476.63 A5,5 0 1 1 235.83,480.00" fill="none" stroke="#262626" stroke-width="1.1" />
<rect x="222.4" y="475.5" width="9.4" height="6" rx="0" fill="#fff" stroke="#262626" stroke-width="1.1"/>
<line x1="227.4" y1="475.5" x2="227.4" y2="481.5" stroke="#262626" stroke-width="1.0"/>
<rect x="195" y="509" width="10" height="6" rx="0" fill="#fff" stroke="#262626" stroke-width="1.1"/>
<line x1="200" y1="509" x2="200" y2="515" stroke="#262626" stroke-width="1.0"/>
<path d="M190.61,511.78 A7,7 0 0 0 202.00,518.36" fill="none" stroke="#262626" stroke-width="1.1" />
<path d="M224.72,509.61 A7,7 0 1 0 237.88,509.61" fill="none" stroke="#262626" stroke-width="1.3" />
<path d="M228.3,513.6 H234.3 M231.3,510.6 V516.6" stroke="#262626" stroke-width="1.5"/>
<rect x="181.4" y="483.2" width="65.4" height="25.7" rx="0" fill="#fff" stroke="#262626" stroke-width="1.45"/>
<rect x="217.9" y="481.3" width="28.9" height="2.3" fill="#333"/>
<line x1="209.9" y1="483.2" x2="209.9" y2="508.9" stroke="#262626" stroke-width="1.45"/>
<line x1="217.9" y1="481.5" x2="217.9" y2="508.9" stroke="#262626" stroke-width="1.45"/>
<line x1="183.6" y1="483.2" x2="183.6" y2="508.9" stroke="#262626" stroke-width="0.9"/>
<rect x="244.3" y="482" width="2.6" height="27" fill="#333"/>
<line x1="181.4" y1="507.2" x2="246.8" y2="507.2" stroke="#262626" stroke-width="0.9"/>
<path d="M180.9,487 L156.3,487 L156.3,498.7 L172.9,498.7 L172.9,503 L180.9,503" fill="none" stroke="#262626" stroke-width="1.45" />
<circle cx="165.6" cy="492.8" r="3" fill="none" stroke="#262626" stroke-width="1.45"/>
<path d="M246.9,487 L272,487 L272,498.7 L250,498.7 L250,503 L246.9,503" fill="none" stroke="#262626" stroke-width="1.45" />
<circle cx="261.5" cy="492.6" r="3" fill="none" stroke="#262626" stroke-width="1.45"/>
<path d="M244.2,473.5 H260.8 M252.5,464.7 V482.3" stroke="#1a1a1a" stroke-width="4.4"/>
<path d="M244.2,517.5 H260.8 M252.5,508.7 V526.3" stroke="#1a1a1a" stroke-width="4.4"/>
<rect x="230.2" y="530.5" width="26.6" height="3" fill="#222"/>
<rect x="230.2" y="533.5" width="26.6" height="6.3" rx="0" fill="none" stroke="#262626" stroke-width="1.0"/>
<line x1="243.5" y1="425.3" x2="243.5" y2="431.3" stroke="#262626" stroke-width="0.9"/>
<line x1="243.5" y1="441.9" x2="243.5" y2="593.7" stroke="#262626" stroke-width="1.0"/>
<line x1="183.9" y1="549.3" x2="183.9" y2="565" stroke="#262626" stroke-width="1.0"/>
<line x1="183.9" y1="572.2" x2="183.9" y2="593.7" stroke="#262626" stroke-width="1.0"/>
<line x1="183.9" y1="587" x2="243.5" y2="587" stroke="#262626" stroke-width="1.45"/>
<polygon points="183.9,587 191.70000000000002,584.6 191.70000000000002,589.4" fill="#111" stroke="#111" stroke-width="0.5" stroke-linejoin="round"/>
<polygon points="243.5,587 235.7,584.6 235.7,589.4" fill="#111" stroke="#111" stroke-width="0.5" stroke-linejoin="round"/>
<g><text x="189.84" y="582.4" font-size="11.3" letter-spacing="0.45" fill="#1a1a1a" stroke="#1a1a1a" stroke-width="0.35">29</text><text x="209.22" y="582.4" font-size="11.3" letter-spacing="0.45" fill="#1a1a1a" stroke="#1a1a1a" stroke-width="0.35">1.12</text><path d="M206.70,571.4 H204.55 V585.6 H206.70 M234.50,571.4 H236.65 V585.6 H234.50" fill="none" stroke="#1a1a1a" stroke-width="1.1"/></g>
<polyline points="272.8,487.8 285,479.1 292.4,479.1" fill="none" stroke="#262626" stroke-width="1.45"/>
<text x="294.6" y="465.6" font-size="12" text-anchor="start" fill="#1a1a1a" stroke="#1a1a1a" stroke-width="0.25" >6.3mm [0.25] SPADE</text>
<text x="294.6" y="479.6" font-size="12" text-anchor="start" fill="#1a1a1a" stroke="#1a1a1a" stroke-width="0.25" >TERMINALS FOR</text>
<text x="294.6" y="494" font-size="12" text-anchor="start" fill="#1a1a1a" stroke="#1a1a1a" stroke-width="0.25" >AUXILIARY CONTACT</text>
<text x="294.6" y="508" font-size="12" text-anchor="start" fill="#1a1a1a" stroke="#1a1a1a" stroke-width="0.25" >CONNECTIONS</text>
<line x1="472.5" y1="403.5" x2="836" y2="403.5" stroke="#d4d4d4" stroke-width="1.0"/>
<line x1="472.5" y1="403.5" x2="472.5" y2="600" stroke="#c8c8c8" stroke-width="1.0"/>
<line x1="0" y1="600.3" x2="836" y2="600.3" stroke="#dedede" stroke-width="1.0"/>
<line x1="519.5" y1="427" x2="519.5" y2="508.6" stroke="#262626" stroke-width="1.45"/>
<line x1="701.4" y1="427" x2="701.4" y2="508.6" stroke="#262626" stroke-width="1.45"/>
<line x1="519.3" y1="434.2" x2="701.4" y2="434.2" stroke="#262626" stroke-width="1.45"/>
<polygon points="519.3,434.2 527.0999999999999,431.8 527.0999999999999,436.59999999999997" fill="#111" stroke="#111" stroke-width="0.5" stroke-linejoin="round"/>
<polygon points="701.4,434.2 693.6,431.8 693.6,436.59999999999997" fill="#111" stroke="#111" stroke-width="0.5" stroke-linejoin="round"/>
<text x="586.2" y="430.4" font-size="12" text-anchor="start" fill="#1a1a1a" stroke="#1a1a1a" stroke-width="0.25" >48 [1.89]</text>
<circle cx="610.6" cy="501.7" r="47.4" fill="none" stroke="#262626" stroke-width="1.9"/>
<line x1="610.6" y1="446.6" x2="610.6" y2="454.6" stroke="#262626" stroke-width="1.3"/>
<line x1="555.6" y1="501.6" x2="563.6" y2="501.6" stroke="#262626" stroke-width="1.3"/>
<line x1="610.6" y1="463.1" x2="610.6" y2="473.6" stroke="#262626" stroke-width="1.3"/>
<line x1="572.1" y1="501.6" x2="582.6" y2="501.6" stroke="#262626" stroke-width="1.3"/>
<line x1="610.6" y1="481.6" x2="610.6" y2="492.40000000000003" stroke="#262626" stroke-width="1.3"/>
<line x1="590.6" y1="501.6" x2="601.4" y2="501.6" stroke="#262626" stroke-width="1.3"/>
<line x1="610.6" y1="496.6" x2="610.6" y2="506.6" stroke="#262626" stroke-width="1.3"/>
<line x1="605.6" y1="501.6" x2="615.6" y2="501.6" stroke="#262626" stroke-width="1.3"/>
<line x1="610.6" y1="510.1" x2="610.6" y2="520.6" stroke="#262626" stroke-width="1.3"/>
<line x1="619.1" y1="501.6" x2="629.6" y2="501.6" stroke="#262626" stroke-width="1.3"/>
<line x1="610.6" y1="528.6" x2="610.6" y2="539.6" stroke="#262626" stroke-width="1.3"/>
<line x1="637.6" y1="501.6" x2="648.6" y2="501.6" stroke="#262626" stroke-width="1.3"/>
<line x1="610.6" y1="547.6" x2="610.6" y2="556.6" stroke="#262626" stroke-width="1.3"/>
<line x1="656.6" y1="501.6" x2="665.6" y2="501.6" stroke="#262626" stroke-width="1.3"/>
<circle cx="519.5" cy="501.6" r="10.3" fill="none" stroke="#262626" stroke-width="1.8"/>
<line x1="512.5" y1="501.6" x2="526.5" y2="501.6" stroke="#262626" stroke-width="1.45"/>
<line x1="502.0" y1="501.6" x2="506.5" y2="501.6" stroke="#262626" stroke-width="1.45"/>
<line x1="532.5" y1="501.6" x2="537.0" y2="501.6" stroke="#262626" stroke-width="1.45"/>
<line x1="519.5" y1="514" x2="519.5" y2="519" stroke="#262626" stroke-width="1.45"/>
<circle cx="701.4" cy="501.6" r="10.3" fill="none" stroke="#262626" stroke-width="1.8"/>
<line x1="694.4" y1="501.6" x2="708.4" y2="501.6" stroke="#262626" stroke-width="1.45"/>
<line x1="683.9" y1="501.6" x2="688.4" y2="501.6" stroke="#262626" stroke-width="1.45"/>
<line x1="714.4" y1="501.6" x2="718.9" y2="501.6" stroke="#262626" stroke-width="1.45"/>
<line x1="701.4" y1="514" x2="701.4" y2="519" stroke="#262626" stroke-width="1.45"/>
<path d="M502,564.1 L574.7,564.1 L587.6,542.6" fill="none" stroke="#262626" stroke-width="1.1" />
<polygon points="587.6,542.6 585.8850141485749,549.7343411419284 582.1120452754398,547.4705598180473" fill="#111" stroke="#111" stroke-width="0.5" stroke-linejoin="round"/>
<text x="504.8" y="561.4" font-size="12" text-anchor="start" fill="#1a1a1a" stroke="#1a1a1a" stroke-width="0.25" >&#216;25 [&#216;0.98]</text>
<path d="M709.2,493 L721.4,481.2 L833,481.2" fill="none" stroke="#262626" stroke-width="1.1" />
<polygon points="709.2,493 712.7020492275242,486.55208163761375 715.761039737165,489.71476674080174" fill="#111" stroke="#111" stroke-width="0.5" stroke-linejoin="round"/>
<ellipse cx="739.5" cy="461" rx="3.5" ry="3.7" fill="none" stroke="#262626" stroke-width="1.35"/>
<line x1="737.6" y1="466" x2="741.8" y2="455.9" stroke="#262626" stroke-width="1.4"/>
<g><text x="746.66" y="464.6" font-size="11.3" letter-spacing="0.45" fill="#1a1a1a" stroke="#1a1a1a" stroke-width="0.35">5.5</text><text x="771.36" y="464.6" font-size="11.3" letter-spacing="0.45" fill="#1a1a1a" stroke="#1a1a1a" stroke-width="0.35">0.22</text><path d="M769.00,453.6 H766.85 V467.8 H769.00 M796.50,453.6 H798.65 V467.8 H796.50" fill="none" stroke="#1a1a1a" stroke-width="1.1"/></g>
<text x="734.6" y="478.4" font-size="12" text-anchor="start" fill="#1a1a1a" stroke="#1a1a1a" stroke-width="0.25" >HOLE (2 POSN)</text>
<text x="592" y="587.7" font-size="12" text-anchor="start" fill="#2a2a2a" stroke="#2a2a2a" stroke-width="0.25" >Drilling Details for Mounting</text>
</svg></body></html>
